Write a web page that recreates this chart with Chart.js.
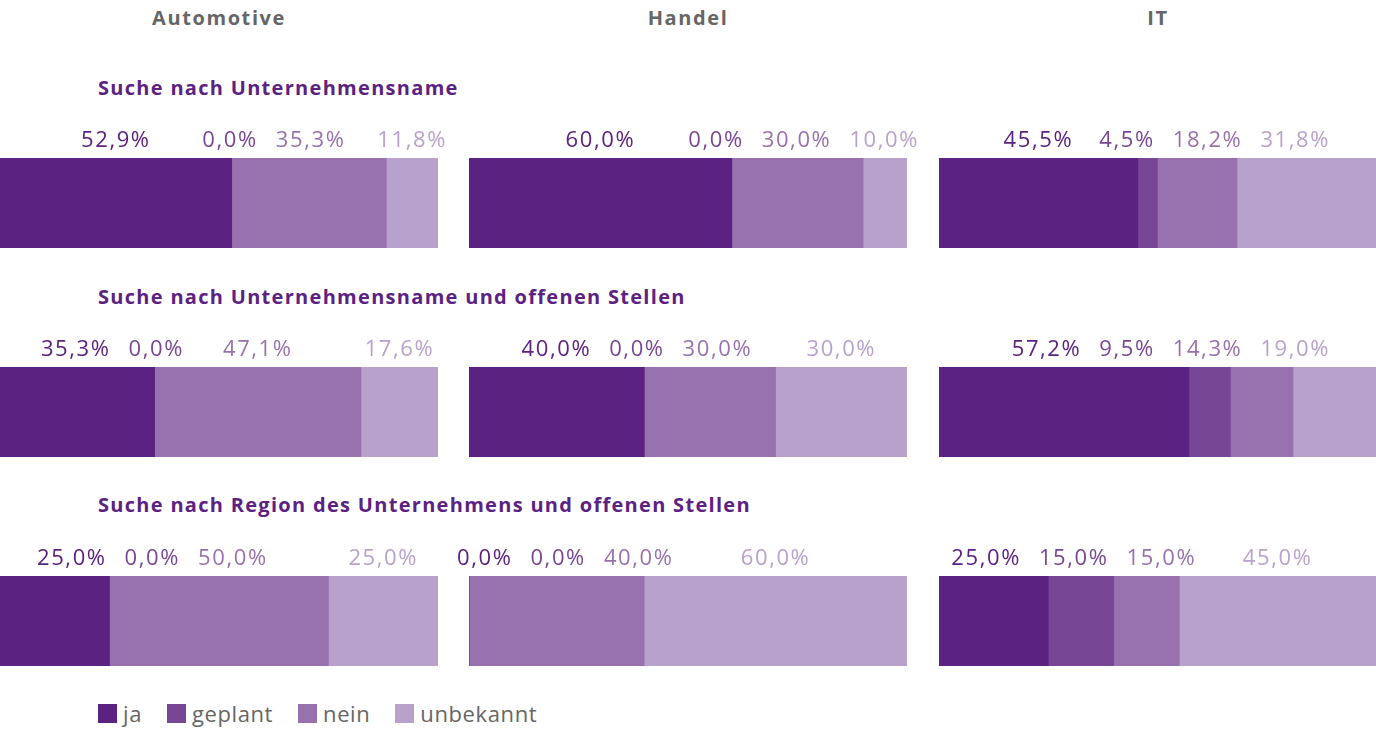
<!DOCTYPE html>
<html>
<head>
<meta charset="utf-8">
<script src="https://cdn.jsdelivr.net/npm/chart.js@4/dist/chart.umd.min.js"></script>
<style>
  body { margin: 0; width: 1376px; height: 732px; background: #fff; font-family: "Open Sans", sans-serif; position: relative; overflow: hidden; }
  .head { position: absolute; top: 4px; font-weight: bold; font-size: 20px; color: #666; text-align: center; width: 438px; letter-spacing: 1.6px; }
  .sub { position: absolute; left: 98px; font-weight: bold; font-size: 20px; color: #5b2282; letter-spacing: 1.3px; }
  .cell { position: absolute; }
  .legend { position: absolute; left: 98px; top: 698px; display: flex; align-items: center; font-size: 22px; color: #666; letter-spacing: 0.6px; }
  .legend span.sw { display: inline-block; width: 19px; height: 19px; margin-right: 6px; }
  .legend span.lb { margin-right: 25px; }
</style>
</head>
<body>
<script>
const industries = ["Automotive", "Handel", "IT"];
const categories = [
  "Suche nach Unternehmensname",
  "Suche nach Unternehmensname und offenen Stellen",
  "Suche nach Region des Unternehmens und offenen Stellen"
];
const seriesNames = ["ja", "geplant", "nein", "unbekannt"];
const seriesColors = ["#5b2282", "#774796", "#9872ae", "#b8a2cc"];

// rows = categories, columns = industries
const ja        = [[52.9, 60.0, 45.5], [35.3, 40.0, 57.2], [25.0, 0.0, 25.0]];
const geplant   = [[0.0, 0.0, 4.5],    [0.0, 0.0, 9.5],    [0.0, 0.0, 15.0]];
const nein      = [[35.3, 30.0, 18.2], [47.1, 30.0, 14.3], [50.0, 40.0, 15.0]];
const unbekannt = [[11.8, 10.0, 31.8], [17.6, 30.0, 19.0], [25.0, 60.0, 45.0]];
const allSeries = [ja, geplant, nein, unbekannt];

const colLeft = [0, 469, 939];
const colWidth = [438, 438, 437];
const subTop = [74, 283, 491];
const barTop = [158, 367, 576];
const barHeight = 90;
const pad = 40;
const labelSpace = 40;
// labels stay inside this horizontal band of the page
const pageMinX = 37;
const pageMaxX = 1330;

// headers
industries.forEach((name, c) => {
  const d = document.createElement("div");
  d.className = "head";
  d.style.left = colLeft[c] + "px";
  d.textContent = name;
  document.body.appendChild(d);
});
categories.forEach((name, r) => {
  const d = document.createElement("div");
  d.className = "sub";
  d.style.top = subTop[r] + "px";
  d.textContent = name;
  document.body.appendChild(d);
});

function fmt(v) {
  return v.toFixed(1).replace(".", ",") + "%";
}

/*
 * Draws value labels above each segment and pushes them apart when they overlap
 */
const topLabels = {
  id: "topLabels",
  afterDatasetsDraw(chart) {
    const ctx = chart.ctx;
    const area = chart.chartArea;
    const offset = chart.canvas.getBoundingClientRect().left;
    const minX = Math.max(area.left - 12, pageMinX - offset);
    const maxX = Math.min(area.right + 12, pageMaxX - offset);
    ctx.save();
    ctx.font = "22px 'Open Sans'";
    ctx.letterSpacing = "1.6px";
    ctx.textAlign = "center";
    ctx.textBaseline = "middle";
    const items = [];
    chart.data.datasets.forEach((ds, i) => {
      const el = chart.getDatasetMeta(i).data[0];
      const p = el.getProps(["x", "base", "y", "height"], true);
      const text = fmt(ds.data[0]);
      items.push({
        text: text,
        color: ds.backgroundColor,
        c: (p.x + p.base) / 2,
        w: ctx.measureText(text).width,
        y: p.y - p.height / 2 - 17
      });
    });
    const gap = 18;
    for (let k = 0; k < 200; k++) {
      for (let i = 0; i < items.length - 1; i++) {
        const a = items[i], b = items[i + 1];
        const need = (a.w + b.w) / 2 + gap;
        const d = b.c - a.c;
        if (d < need) {
          const s = (need - d) / 2;
          a.c -= s;
          b.c += s;
        }
      }
      const first = items[0];
      if (first.c - first.w / 2 < minX) first.c = minX + first.w / 2;
      const last = items[items.length - 1];
      if (last.c + last.w / 2 > maxX) last.c = maxX - last.w / 2;
    }
    items.forEach(it => {
      ctx.fillStyle = it.color;
      ctx.fillText(it.text, it.c, it.y);
    });
    ctx.restore();
  }
};

for (let r = 0; r < categories.length; r++) {
  for (let c = 0; c < industries.length; c++) {
    const wrap = document.createElement("div");
    wrap.className = "cell";
    wrap.style.left = (colLeft[c] - pad) + "px";
    wrap.style.top = (barTop[r] - labelSpace) + "px";
    wrap.style.width = (colWidth[c] + 2 * pad) + "px";
    wrap.style.height = (barHeight + labelSpace) + "px";
    const cv = document.createElement("canvas");
    wrap.appendChild(cv);
    document.body.appendChild(wrap);

    new Chart(cv, {
      type: "bar",
      data: {
        labels: [categories[r]],
        datasets: seriesNames.map((name, i) => ({
          label: name,
          data: [allSeries[i][r][c]],
          backgroundColor: seriesColors[i],
          borderWidth: 0,
          barPercentage: 1,
          categoryPercentage: 1
        }))
      },
      options: {
        indexAxis: "y",
        responsive: true,
        maintainAspectRatio: false,
        animation: false,
        layout: { padding: { left: pad, right: pad, top: labelSpace, bottom: 0 } },
        scales: {
          x: { stacked: true, min: 0, max: 100, display: false },
          y: { stacked: true, display: false }
        },
        plugins: {
          legend: { display: false },
          tooltip: { enabled: false }
        }
      },
      plugins: [topLabels]
    });
  }
}

// legend
const lg = document.createElement("div");
lg.className = "legend";
seriesNames.forEach((name, i) => {
  const sw = document.createElement("span");
  sw.className = "sw";
  sw.style.background = seriesColors[i];
  const lb = document.createElement("span");
  lb.className = "lb";
  lb.textContent = name;
  lg.appendChild(sw);
  lg.appendChild(lb);
});
document.body.appendChild(lg);
</script>
</body>
</html>
